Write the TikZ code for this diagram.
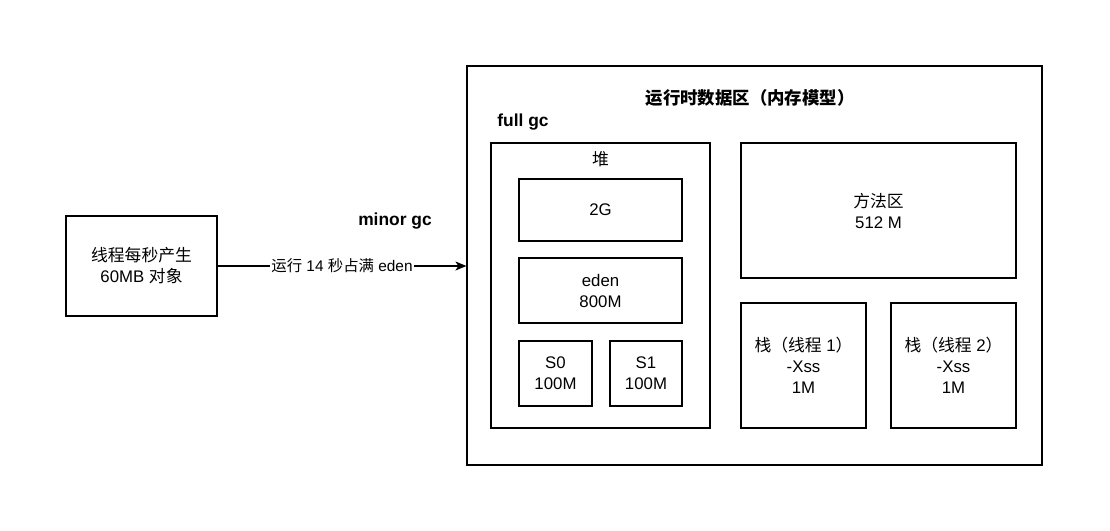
\documentclass[tikz,border=0pt]{standalone}
\usepackage{fontspec}
\setmainfont{Liberation Sans}
\newfontfamily\cjk{Noto Sans CJK SC}
\newcommand{\zh}[1]{{\cjk #1}}
\usetikzlibrary{positioning,arrows.meta}

\begin{document}
\begin{tikzpicture}[
            x = 1pt, y = -1pt, % pixel grid
            > = {Stealth[length=11pt, width=9pt, inset=3pt]}, % arrow head style
            box/.style = {draw=black, line width=1.2pt, inner sep=0pt, align=center,
                          font=\fontsize{16.8}{21}\selectfont},
            plain/.style = {inner sep=0pt, align=center, font=\fontsize{16.8}{21}\selectfont},
            bold/.style = {inner sep=0pt, font=\fontsize{17.4}{21}\selectfont\bfseries}
        ]
\useasboundingbox (0,0) rectangle (1110,530);

% thread on the left
\node[box, minimum width=151pt, minimum height=100pt] (thread) at (141.5,266)
     {\zh{线程每秒产生}\\60MB \zh{对象}};

% runtime data area
\node[box, minimum width=575pt, minimum height=399pt] (runtime) at (754.5,265.5) {};
\node[bold] (title) at (750,98) {\zh{运行时数据区（内存模型）}};
\node[bold] (fullgc) at (523,122) {full gc};
\node[bold] (minorgc) at (395,221) {minor gc};

% heap
\node[box, minimum width=219pt, minimum height=285pt] (heap) at (600.5,285.5) {};
\node[plain] (heaplabel) at (600.5,159) {\zh{堆}};
\node[box, minimum width=163pt, minimum height=62pt] (old) at (600.5,210) {2G};
\node[box, minimum width=163pt, minimum height=65pt] (eden) at (600.5,290.5) {eden\\800M};
\node[box, minimum width=73pt, minimum height=65pt] (S0) at (555.5,373.5) {S0\\100M};
\node[box, minimum width=72pt, minimum height=65pt] (S1) at (646,373.5) {S1\\100M};

% method area and stacks
\node[box, minimum width=275pt, minimum height=135pt] (method) at (878.5,210.5) {\zh{方法区}\\512 M};
\node[box, minimum width=125pt, minimum height=125pt] (stack1) at (803.5,365.5)
     {\zh{栈（线程} 1\zh{）}\\-Xss\\1M};
\node[box, minimum width=125pt, minimum height=125pt] (stack2) at (953.5,365.5)
     {\zh{栈（线程} 2\zh{）}\\-Xss\\1M};

\draw[->, line width=1.2pt] (thread.east) -- (thread.east -| runtime.west)
     node[midway, fill=white, inner sep=1pt, font=\fontsize{15.4}{20}\selectfont] (fill) {\zh{运行} 14 \zh{秒占满} eden};
\end{tikzpicture}
\end{document}
